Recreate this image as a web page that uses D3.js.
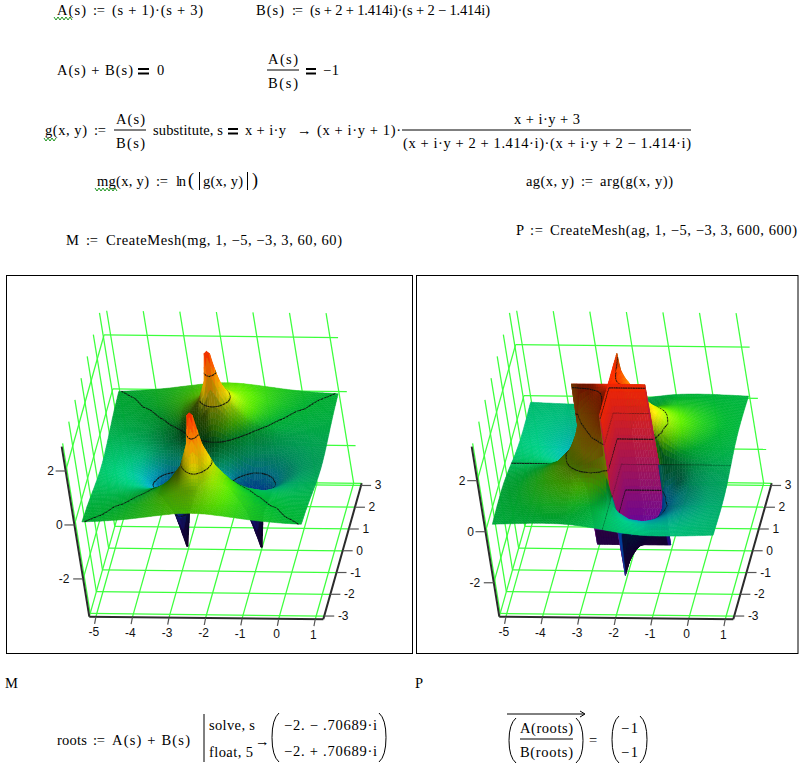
<!DOCTYPE html>
<html><head><meta charset="utf-8">
<style>html,body{margin:0;padding:0;background:#fff;overflow:hidden}svg{display:block}</style>
<script src="https://cdn.jsdelivr.net/npm/d3@7"></script></head><body>
<svg id="c" width="799" height="763"></svg>
<script>
const uNodes=[0,.07,.2,.45,.8,1,1.03,1.2,1.6,2,2.5,3];
const yNodes=[0,.07,.3,.7,1.1,1.34,1.414,1.49,1.8,2.3,3];
const centerX=-2;
const magRows=[
[-.693,-.70,-.754,-1.016,-1.99,-3.3,-3.3,-2.06,-1.07,-.693,-.452,-.318],
[-.686,-.693,-.746,-1.005,-1.933,-3.06,-2.98,-2.0,-1.066,-.69,-.45,-.318],
[-.561,-.568,-.614,-.832,-1.372,-1.589,-1.59,-1.454,-.957,-.65,-.435,-.311],
[-.013,-.02,-.064,-.241,-.545,-.661,-.67,-.703,-.627,-.497,-.365,-.274],
[1.029,1.004,.857,.468,.039,-.122,-.14,-.228,-.318,-.314,-.269,-.22],
[2.618,2.298,1.562,.81,.278,.093,.07,-.034,-.172,-.214,-.21,-.185],
[2.8,2.72,1.67,.869,.33,.144,.12,.013,-.134,-.187,-.193,-.174],
[2.68,2.37,1.65,.90,.373,.188,.165,.056,-.10,-.161,-.176,-.163],
[1.229,1.214,1.113,.817,.449,.294,.277,.174,.015,-.068,-.111,-.119],
[.648,.645,.626,.55,.396,.311,.30,.233,.11,.027,-.032,-.06],
[.357,.356,.353,.332,.278,.243,.238,.209,.138,.081,.029,-.005]];
const argRows=[
[3.14,3.14,3.14,3.14,3.14,3.14,0,0,0,0,0,0],
[3.14,3.127,3.099,3.034,2.80,1.559,1.153,.32,.094,.047,.024,.014],
[3.14,3.081,2.966,2.719,2.137,1.516,1.412,.906,.367,.191,.101,.06],
[3.14,3.011,2.772,2.335,1.74,1.399,1.38,1.083,.622,.37,.21,.13],
[3.14,2.88,2.455,1.90,1.41,1.186,1.17,.985,.662,.441,.274,.178],
[3.14,2.343,1.806,1.46,1.163,1.013,1.00,.872,.627,.445,.29,.196],
[3.14,1.53,1.452,1.301,1.082,.955,.945,.832,.612,.44,.293,.199],
[0,.705,1.093,1.14,.999,.896,.89,.79,.595,.436,.294,.203],
[0,.142,.371,.62,.691,.666,.66,.622,.509,.399,.288,.208],
[0,.047,.13,.263,.369,.393,.393,.397,.37,.321,.255,.199],
[0,.018,.051,.109,.172,.197,.20,.214,.226,.219,.195,.166]];
const xTicks=[-5,-4,-3,-2,-1,0,1];
const yTicks=[-3,-2,-1,0,1,2,3];
const zTicks=[-2,0,2];
const xDomain=[-5.18,1.22], yDomain=[-3.15,3.1];
const magZDomain=[-3.4,2.9], argZDomain=[-3.33,3.33];
const magLevels=[-2,-1,0,1,2], argLevels=[-1,0,1,2,3];
const colorStops=[[0,"#6000a8"],[.15,"#3010b8"],[.3,"#0050c8"],[.4,"#00a0b0"],[.46,"#00b878"],[.54,"#00a830"],[.6,"#50d000"],[.66,"#a0e000"],[.72,"#f0e000"],[.82,"#ffa000"],[.92,"#ff5000"],[1,"#e81000"]];

const svg=d3.select("#c");
const colormap=d3.scaleLinear().domain(colorStops.map(d=>d[0])).range(colorStops.map(d=>d[1])).interpolate(d3.interpolateRgb).clamp(true);
const L=[.5,.25,.83];
const Corner=[89.3,616.7],Ex=[234,2.6],Ey=[38.4,-136],Ez=[-27.6,-170];

function plot(cfg){
  const g=svg.append("g").attr("transform",`translate(${cfg.dx},0)`);
  const sx=d3.scaleLinear(xDomain,[0,1]),sy=d3.scaleLinear(yDomain,[0,1]),sz=d3.scaleLinear(cfg.zDomain,[0,1]);
  const P=(x,y,z)=>[Corner[0]+sx(x)*Ex[0]+sy(y)*Ey[0]+sz(z)*Ez[0],Corner[1]+sx(x)*Ex[1]+sy(y)*Ey[1]+sz(z)*Ez[1]];
  const [zMin,zMax]=cfg.zDomain,[xMin,xMax]=xDomain,[yMin,yMax]=yDomain;
  const seg=(a,b,st,w)=>g.append("line").attr("x1",a[0]).attr("y1",a[1]).attr("x2",b[0]).attr("y2",b[1]).attr("stroke",st).attr("stroke-width",w);
  const green="#3cff3c";
  yTicks.forEach(y=>{seg(P(xMin,y,zMin),P(xMax,y,zMin),green,1.25);seg(P(xMin,y,zMin),P(xMin,y,zMax),green,1.25);});
  xTicks.forEach(x=>{seg(P(x,yMin,zMin),P(x,yMax,zMin),green,1.25);seg(P(x,yMax,zMin),P(x,yMax,zMax),green,1.25);});
  zTicks.forEach(z=>{seg(P(xMin,yMin,z),P(xMin,yMax,z),green,1.25);seg(P(xMin,yMax,z),P(xMax,yMax,z),green,1.25);});
  seg(P(xMin,yMin,zMin),P(xMin,yMax,zMin),green,1.25);seg(P(xMin,yMax,zMin),P(xMax,yMax,zMin),green,1.25);

  const us=[...uNodes.slice().reverse().map(u=>({v:-u,s:-1})),...uNodes.map(u=>({v:u,s:1}))];
  const ysN=[...yNodes.map(y=>({v:y,s:1})).reverse(),...yNodes.map(y=>({v:-y,s:-1}))];
  const uIdx=u=>uNodes.indexOf(Math.abs(u)),yIdx=y=>yNodes.indexOf(Math.abs(y));
  const X=us.map(d=>centerX+d.v),Y=ysN.map(d=>d.v);
  const Z=ysN.map(r=>us.map(c=>{
    const v=cfg.rows[yIdx(r.v)][uIdx(c.v)];
    return cfg.signed? v*r.s*c.s : v;
  }));
  const nx=X.length,ny=Y.length;
  const B=Z.map((row,j)=>row.map((z,i)=>{
    let lo=i-1,hi=i+1,jl=j-1,jh=j+1;
    if(lo>=0&&X[lo]===X[i])lo=Math.abs(Z[j][lo]-z)<1e-6?lo-1:i;
    if(hi<nx&&X[hi]===X[i])hi=Math.abs(Z[j][hi]-z)<1e-6?hi+1:i;
    if(jl>=0&&Y[jl]===Y[j])jl=Math.abs(Z[jl][i]-z)<1e-6?jl-1:j;
    if(jh<ny&&Y[jh]===Y[j])jh=Math.abs(Z[jh][i]-z)<1e-6?jh+1:j;
    lo=Math.max(lo,0);hi=Math.min(hi,nx-1);jl=Math.max(jl,0);jh=Math.min(jh,ny-1);
    const zx=hi!==lo?(Z[j][hi]-Z[j][lo])/(X[hi]-X[lo]):0;
    const zy=jh!==jl?(Z[jh][i]-Z[jl][i])/(Y[jh]-Y[jl]):0;
    const n=Math.hypot(zx,zy,1);
    let b=.3+.72*((-zx*L[0]-zy*L[1]+L[2])/n)/L[2];
    const minB=z<-.5?.68:cfg.minDark;
    b=Math.max(minB,Math.min(1.15,b));
    if(cfg.floor){const f=Math.max(0,Math.min(1,(z-.75)/.5));b=Math.max(b,f*.98);}
    if(cfg.floor&&z<-1.6)b*=.32;
    return b;
  }));
  const items=[];
  const cz=z=>colormap(sz(z));
  for(let j=0;j<ny-1;j++){
    for(let i=0;i<nx-1;i++){
      const dx=X[i+1]-X[i],dy=Y[j]-Y[j+1];
      const z00=Z[j][i],z10=Z[j][i+1],z01=Z[j+1][i],z11=Z[j+1][i+1];
      const wallX=dx===0,wallY=dy===0;
      if(wallX&&Math.abs(z00-z10)+Math.abs(z01-z11)<1e-6)continue;
      if(wallY&&Math.abs(z00-z01)+Math.abs(z10-z11)<1e-6)continue;
      const nu=wallX?22:Math.max(1,Math.ceil(dx/.08));
      const nv=wallY?22:Math.max(1,Math.ceil(dy/.08));
      const big=(a,c)=>Math.abs(a)>Math.abs(c)?a:c;
      const zHi=wallX?big(z00,z01):big(z00,z10),zLo=wallX?big(z10,z11):big(z01,z11);
      for(let b=0;b<nv;b++){
        for(let a=0;a<nu;a++){
          const f=(s,t)=>(1-t)*((1-s)*z00+s*z10)+t*((1-s)*z01+s*z11);
          const s0=a/nu,s1=(a+1)/nu,t0=b/nv,t1=(b+1)/nv;
          const q=[[s0,t0],[s1,t0],[s1,t1],[s0,t1]].map(([s,t])=>{
            const x=X[i]+s*dx,y=Y[j]-t*dy,z=f(s,t);return {p:P(x,y,z),z,x,y};});
          const sm=(s0+s1)/2,tm=(t0+t1)/2;
          const under=cfg.underY&&d3.mean(q,v=>v.p[1])>cfg.underY&&f(sm,tm)<-1.5?.4:1;
          let col;
          if(wallX||wallY){
            const fr=Math.abs(zHi-zLo)<1e-6?0:(zHi-f(sm,tm))/(zHi-zLo);
            col=d3.rgb(d3.interpolateRgb(cz(zHi),cz(zLo))(fr));
            col=d3.rgb(col.r*under,col.g*under,col.b*under);
          }else{
            const b0=under*((1-tm)*((1-sm)*B[j][i]+sm*B[j][i+1])+tm*((1-sm)*B[j+1][i]+sm*B[j+1][i+1]));
            const c=d3.rgb(cz(f(sm,tm)));
            col=d3.rgb(c.r*b0,c.g*b0,c.b*b0);
          }
          const fill=col.formatHex();
          items.push({d:"M"+q.map(v=>v.p.map(n=>n.toFixed(1)).join(",")).join("L")+"Z",fill,stroke:fill,sw:.5});
          cfg.levels.forEach(l0=>{
            const l=l0+1e-4,pts=[];
            for(let k=0;k<4;k++){
              const m=q[k],o=q[(k+1)%4];
              if((m.z-l)*(o.z-l)<0){const r=(l-m.z)/(o.z-m.z);pts.push([m.p[0]+r*(o.p[0]-m.p[0]),m.p[1]+r*(o.p[1]-m.p[1])]);}
            }
            for(let k=0;k+1<pts.length;k+=2)
              items.push({d:`M${pts[k][0].toFixed(1)},${pts[k][1].toFixed(1)}L${pts[k+1][0].toFixed(1)},${pts[k+1][1].toFixed(1)}`,fill:"none",stroke:"#111",sw:1.1});
          });
        }
      }
    }
  }
  g.append("g").selectAll("path").data(items).join("path").attr("d",d=>d.d).attr("fill",d=>d.fill).attr("stroke",d=>d.stroke).attr("stroke-width",d=>d.sw);
  const ax="#2b2b2b",gr="#555";
  seg(P(xMin,yMin,zMin),P(xMax,yMin,zMin),ax,2);
  seg(P(xMax,yMin,zMin),P(xMax,yMax,zMin),ax,2);
  seg(P(xMin,yMin,zMin),P(xMin,yMin,zMax),ax,2);
  const lab=(p,t)=>g.append("text").attr("x",p[0]).attr("y",p[1]).attr("text-anchor","middle").attr("dominant-baseline","central").attr("font-family","Liberation Sans").attr("font-size",12).attr("fill","#111").text(t);
  xTicks.forEach(x=>{const p=P(x,yMin,zMin);seg(p,[p[0]-1.3,p[1]+7],gr,1.2);lab([p[0]-2,p[1]+15.5],x);});
  yTicks.forEach(y=>{const p=P(xMax,y,zMin);seg(p,[p[0]+10,p[1]],gr,1.2);lab([p[0]+(y<0?19:17),p[1]],y);});
  zTicks.forEach(z=>{const p=P(xMin,yMin,z);seg(p,[p[0]-10,p[1]],gr,1.2);lab([p[0]-(z<0?19:15),p[1]],z);});
}
svg.append("rect").attr("x",6.5).attr("y",275.5).attr("width",406).attr("height",378).attr("fill","none").attr("stroke","#000");
svg.append("rect").attr("x",416.5).attr("y",275.5).attr("width",381.5).attr("height",378).attr("fill","none").attr("stroke","#000");
plot({dx:0,rows:magRows,signed:false,zDomain:magZDomain,levels:magLevels,floor:true,minDark:.3});
plot({dx:410,rows:argRows,signed:true,zDomain:argZDomain,levels:argLevels,floor:false,minDark:.42,underY:529});

function T(x,y,s,x2,o={}){
  const t=svg.append("text").attr("x",x).attr("y",y).attr("font-family","Liberation Serif").attr("font-size",o.fs||14.5).attr("fill","#000").text(s);
  if(x2){t.attr("textLength",x2-x).attr("lengthAdjust","spacing");}
  return t;
}
function bar(x1,x2,y,w=1){svg.append("line").attr("x1",x1).attr("x2",x2).attr("y1",y).attr("y2",y).attr("stroke","#000").attr("stroke-width",w);}
function boldEq(x1,x2,y){bar(x1,x2,y-6,2);bar(x1,x2,y-1.5,2);}
function vbar(x,y1,y2){svg.append("line").attr("x1",x).attr("x2",x).attr("y1",y1).attr("y2",y2).attr("stroke","#000").attr("stroke-width",1);}
function paren(x,y1,y2,d){const m=(y1+y2)/2;svg.append("path").attr("d",`M${x},${y1}Q${x-d*7},${y1+6} ${x-d*7},${m}Q${x-d*7},${y2-6} ${x},${y2}`).attr("fill","none").attr("stroke","#000").attr("stroke-width",1);}
function squig(x1,x2,y){let d=`M${x1},${y}`,k=0;for(let x=x1+2;x<=x2;x+=2,k++)d+=`L${x},${y+(k%2?0:3)}`;svg.append("path").attr("d",d).attr("fill","none").attr("stroke","#0a8a0a").attr("stroke-width",.9);}
const coloneq=":=";
T(57,15,"A(s)",86);T(93,15,coloneq,105);T(112,15,"(s + 1)·(s + 3)",203);squig(54,72,17);
T(256,15,"B(s)",284);T(292,15,coloneq,303);T(310,15,"(s + 2 + 1.414i)·(s + 2 − 1.414i)",490);
T(57,75,"A(s) + B(s)",133);boldEq(138,149,75);T(157,75,"0",164);
T(268,64,"A(s)",298);bar(267,299,70);T(268,88,"B(s)",298);boldEq(306,316,75);T(323,75,"−1",339);
T(45,135,"g(x, y)",87);squig(44,56,138);T(94,135,coloneq,106);T(116,124,"A(s)",145);bar(114,146,130);T(116,148,"B(s)",145);
T(153,135,"substitute, s",223);boldEq(228,238,135);T(245,135,"x + i·y",286);T(297,135,"→",312);T(317,135,"(x + i·y + 1)·",401);
T(514,124,"x + i·y + 3",580);bar(402,691,130);T(403,148,"(x + i·y + 2 + 1.414·i)·(x + i·y + 2 − 1.414·i)",691);
T(97,186,"mg(x, y)",149);squig(95,118,188);T(156,186,coloneq,168);T(176,186,"ln",186);T(188,186,"(",194,{fs:18});vbar(199.5,172,190);T(203,186,"g(x, y)",243);vbar(247.5,172,190);T(252,186,")",257,{fs:18});
T(526,186,"ag(x, y)",574);T(581,186,coloneq,593);T(600,186,"arg(g(x, y))",673);
T(66,245,"M",81);T(86,245,coloneq,98);T(106,245,"CreateMesh(mg, 1, −5, −3, 3, 60, 60)",342);
T(516,235,"P",525);T(530,235,coloneq,543);T(550,235,"CreateMesh(ag, 1, −5, −3, 3, 600, 600)",797);
T(5,688,"M");T(415,688,"P");
T(57,745,"roots",87);T(93,745,coloneq,105);T(112,745,"A(s) + B(s)",190);
vbar(204,714,762);T(209,730,"solve, s",255);T(209,757,"float, 5",253);T(255,746,"→",270);
paren(279,713,762,1);paren(379,713,762,-1);T(284,730,"−2. − .70689·i",377);T(284,756,"−2. + .70689·i",377);
bar(507,584,714);svg.append("path").attr("d","M580,711L585,714L580,717").attr("fill","none").attr("stroke","#000");
paren(516,718,763,1);paren(576,718,763,-1);T(520,733,"A(roots)",573);bar(520,573,739);T(520,757,"B(roots)",573);
T(589,745,"=",599);paren(619,716,763,1);paren(640,716,763,-1);T(621,733,"−1",638);T(621,757,"−1",638);
</script></body></html>
